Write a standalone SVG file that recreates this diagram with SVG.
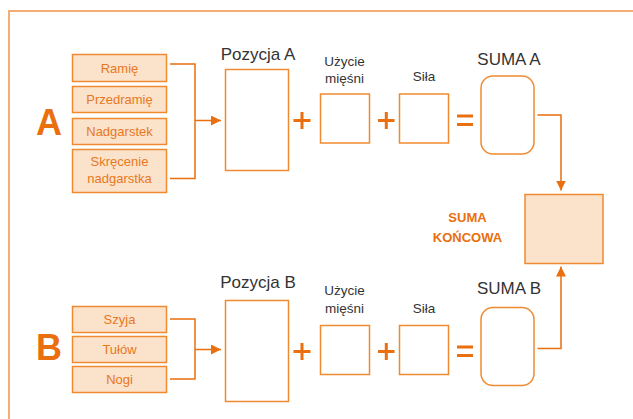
<svg xmlns="http://www.w3.org/2000/svg" width="633" height="419" viewBox="0 0 633 419">
<defs>
<style>
.frame{stroke:#f6ad74;stroke-width:2;fill:none}
.item{fill:#fbe2cb;stroke:#f08a30;stroke-width:1.5}
.itxt{font-family:"Liberation Sans",Arial,sans-serif;font-size:13px;fill:#e8781e;text-anchor:middle}
.box{fill:#fff;stroke:#f08a30;stroke-width:1.5}
.lbl{font-family:"Liberation Sans",Arial,sans-serif;fill:#333;text-anchor:middle}
.big{font-family:"Liberation Sans",Arial,sans-serif;font-weight:bold;fill:#ea6f0e;text-anchor:middle}
.op{stroke:#ea6f0e;stroke-width:3;fill:none}
.con{stroke:#ea6f0e;stroke-width:1.5;fill:none}
.ah{fill:#ea6f0e}
</style>
<marker id="arr" viewBox="0 0 10 10" refX="10" refY="5" markerWidth="10" markerHeight="10" markerUnits="userSpaceOnUse" orient="auto">
<path d="M0,0 L10,5 L0,10 z" class="ah"/>
</marker>
</defs>
<path class="frame" d="M9,419 V11 H633"/>

<g id="letterA"><text class="big" x="49" y="135" font-size="36">A</text></g>
<g id="letterB"><text class="big" x="49" y="360" font-size="36">B</text></g>

<g id="ramie"><rect class="item" x="72.5" y="54.5" width="94" height="27"/><text class="itxt" x="119.5" y="72.5">Ramię</text></g>
<g id="przedramie"><rect class="item" x="72.5" y="86.5" width="94" height="26"/><text class="itxt" x="119.5" y="104">Przedramię</text></g>
<g id="nadgarstek"><rect class="item" x="72.5" y="118.5" width="94" height="26"/><text class="itxt" x="119.5" y="136">Nadgarstek</text></g>
<g id="skrecenie"><rect class="item" x="72.5" y="149.5" width="94" height="43"/><text class="itxt" x="119.5" y="166">Skręcenie</text><text class="itxt" x="119.5" y="183">nadgarstka</text></g>

<g id="szyja"><rect class="item" x="72.5" y="306.5" width="94" height="26"/><text class="itxt" x="119.5" y="324">Szyja</text></g>
<g id="tulow"><rect class="item" x="72.5" y="336.5" width="94" height="26"/><text class="itxt" x="119.5" y="354">Tułów</text></g>
<g id="nogi"><rect class="item" x="72.5" y="366.5" width="94" height="26"/><text class="itxt" x="119.5" y="384">Nogi</text></g>

<g id="pozycjaA"><text class="lbl" x="258" y="60" font-size="17">Pozycja A</text><rect class="box" x="225.5" y="69.5" width="63" height="101"/></g>
<g id="uzycieA"><text class="lbl" x="344.5" y="66" font-size="13.5">Użycie</text><text class="lbl" x="344.5" y="83" font-size="13.5">mięśni</text><rect class="box" x="320.5" y="94" width="49" height="49"/></g>
<g id="silaA"><text class="lbl" x="424" y="81" font-size="13.5">Siła</text><rect class="box" x="399.5" y="94" width="49" height="49"/></g>
<g id="sumaA"><text class="lbl" x="509" y="65" font-size="17">SUMA A</text><rect class="box" x="481" y="76" width="53" height="78" rx="12"/></g>

<g id="pozycjaB"><text class="lbl" x="258" y="288" font-size="17">Pozycja B</text><rect class="box" x="225.5" y="300.5" width="63" height="101"/></g>
<g id="uzycieB"><text class="lbl" x="344.5" y="295" font-size="13.5">Użycie</text><text class="lbl" x="344.5" y="313" font-size="13.5">mięśni</text><rect class="box" x="320.5" y="325.5" width="49" height="49"/></g>
<g id="silaB"><text class="lbl" x="424" y="313" font-size="13.5">Siła</text><rect class="box" x="399.5" y="325.5" width="49" height="49"/></g>
<g id="sumaB"><text class="lbl" x="509" y="294" font-size="17">SUMA B</text><rect class="box" x="481" y="307.5" width="53" height="78" rx="12"/></g>

<g id="sumaKoncowa"><rect class="item" x="525" y="194.5" width="78" height="69"/><text class="big" x="467.5" y="222" font-size="13">SUMA</text><text class="big" x="467.5" y="242" font-size="13">KOŃCOWA</text></g>

<g id="operators">
<path class="op" d="M293.5,120.5 H310.5 M302,112 V129"/>
<path class="op" d="M378,120.5 H394.5 M386.3,112 V129"/>
<path class="op" d="M457,116 H473 M457,124.5 H473"/>
<path class="op" d="M293.5,351.5 H310.5 M302,343 V360"/>
<path class="op" d="M378,351.5 H394.5 M386.3,343 V360"/>
<path class="op" d="M457,347 H473 M457,355.5 H473"/>
</g>

<g id="connectors">
<path class="con" d="M170,64 H195 V178.5 H170 M195,120.5 H221" marker-end="url(#arr)"/>
<path class="con" d="M170,319 H195 V379 H170 M195,349.5 H221" marker-end="url(#arr)"/>
<path class="con" d="M537.5,115 H561 V190.5" marker-end="url(#arr)"/>
<path class="con" d="M537.5,348.5 H561 V266.5" marker-end="url(#arr)"/>
</g>
</svg>
